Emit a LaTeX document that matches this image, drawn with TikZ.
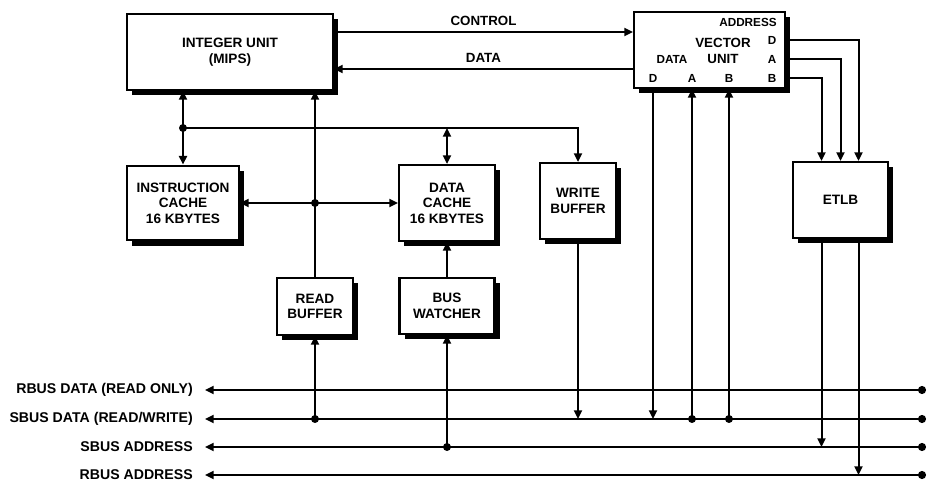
\documentclass[tikz,border=0pt]{standalone}
\usepackage{fontspec}
\setmainfont{Liberation Sans}
\usetikzlibrary{arrows.meta,calc,shadows}

\begin{document}
\begin{tikzpicture}[x=0.75pt,y=-0.75pt,
  wire/.style={line width=1.5pt},
  >={Triangle[length=6.5pt,width=6pt]},
  unitbox/.style={draw, line width=1.6pt, fill=white, align=center, inner sep=0pt,
    font=\fontsize{10.2}{11.6}\selectfont\bfseries,
    general shadow={fill=black, shadow xshift=4pt, shadow yshift=-4pt}},
  tag/.style={font=\fontsize{8.8}{10}\selectfont\bfseries, inner sep=0pt},
  title/.style={font=\fontsize{10}{11}\selectfont\bfseries, inner sep=0pt},
  buslabel/.style={anchor=east, font=\fontsize{10.6}{12}\selectfont\bfseries, inner sep=0pt},
  junction/.style={circle, fill=black, inner sep=0pt, minimum size=6pt},
  busline/.style={wire, {Triangle[length=6.5pt,width=6pt]}-{Circle[length=6pt]}}
]
\useasboundingbox (0,0) rectangle (928,484);

% functional units
\node[unitbox, minimum width=154.5pt, minimum height=57pt] (iu) at (230,52) {INTEGER UNIT\\(MIPS)};
\node[unitbox, minimum width=113.25pt, minimum height=57pt] (vu) at (709.5,50) {};
\node[unitbox, minimum width=71.25pt, minimum height=57pt] (etlb) at (840.5,200) {ETLB};
\node[unitbox, minimum width=84pt, minimum height=56pt] (ic) at (183,203) {INSTRUCTION\\CACHE\\16 KBYTES};
\node[unitbox, minimum width=72pt, minimum height=57pt] (dc) at (447,203) {DATA\\CACHE\\16 KBYTES};
\node[unitbox, minimum width=57pt, minimum height=57pt] (wb) at (578,201) {WRITE\\BUFFER};
\node[unitbox, minimum width=57pt, minimum height=42.75pt] (rb) at (315,306.5) {READ\\BUFFER};
\node[unitbox, minimum width=71.25pt, minimum height=42pt] (bw) at (447,306) {BUS\\WATCHER};

% port labels of the vector unit
\node[tag] (vaddr) at (748,22) {ADDRESS};
\node[title] (vtitle) at (723,43) {VECTOR};
\node[title] (vunit) at (723,59) {UNIT};
\node[tag] (vdata) at (672,59) {DATA};
\node[tag] (vbD) at (653,78) {D};
\node[tag] (vbA) at (692,78) {A};
\node[tag] (vbB) at (729,78) {B};
\node[tag] (vrD) at (772,40) {D};
\node[tag] (vrA) at (772,59) {A};
\node[tag] (vrB) at (772,78) {B};

% external buses
\coordinate (rdL) at (205,390); \coordinate (rdR) at (926,390);
\coordinate (sdL) at (205,419); \coordinate (sdR) at (926,419);
\coordinate (saL) at (205,447); \coordinate (saR) at (926,447);
\coordinate (raL) at (205,475); \coordinate (raR) at (926,475);
\draw[busline] (rdL) -- (rdR);
\draw[busline] (sdL) -- (sdR);
\draw[busline] (saL) -- (saR);
\draw[busline] (raL) -- (raR);
\node[buslabel] (lrd) at ($(rdL)+(-12,0)$) {RBUS DATA (READ ONLY)};
\node[buslabel] (lsd) at ($(sdL)+(-12,0)$) {SBUS DATA (READ/WRITE)};
\node[buslabel] (lsa) at ($(saL)+(-12,0)$) {SBUS ADDRESS};
\node[buslabel] (lra) at ($(raL)+(-12,0)$) {RBUS ADDRESS};

% integer unit <-> vector unit
\coordinate (cL) at ($(iu.east)+(0,-20)$);
\coordinate (dL) at ($(iu.east)+(0,17)$);
\draw[wire,->] (cL) -- (vu.west |- cL) node[midway, above=4pt, title] (lctl) {CONTROL};
\draw[wire,<-] (dL) -- (vu.west |- dL) node[midway, above=4pt, title] (ldat) {DATA};

% internal bus under the integer unit
\coordinate (j1) at (183,128);
\draw[wire,->] (j1) -- (iu.south -| j1);
\draw[wire,->] (j1) -- (ic.north);
\draw[wire,->] (j1) -- (j1 -| wb.north) -- (wb.north);
\draw[wire,<->] (dc.north |- j1) -- (dc.north);
\node[junction] (dj1) at (j1) {};

% read buffer path and cache refill
\draw[wire,->] (rb.north) -- (rb.north |- iu.south);
\coordinate (j2) at (rb.north |- dc.west);
\draw[wire,->] (j2) -- (ic.east |- j2);
\draw[wire,->] (j2) -- (dc.west |- j2);
\node[junction] (dj2) at (j2) {};
\draw[wire,->] (rb.south |- sdL) -- (rb.south);
\node[junction] (drb) at (rb.south |- sdL) {};

% bus watcher
\draw[wire,->] (bw.north) -- (dc.south);
\draw[wire,->] (bw.south |- saL) -- (bw.south);
\node[junction] (dbw) at (bw.south |- saL) {};

% write buffer
\draw[wire,->] (wb.south) -- (wb.south |- sdL);

% vector unit data ports
\draw[wire,->] (vu.south -| vbD) -- (vbD |- sdL);
\draw[wire,->] (vbA |- sdL) -- (vu.south -| vbA);
\draw[wire,->] (vbB |- sdL) -- (vu.south -| vbB);
\node[junction] (dvA) at (vbA |- sdL) {};
\node[junction] (dvB) at (vbB |- sdL) {};

% vector unit address ports to the ETLB
\coordinate (etD) at ($(etlb.north)+(18,0)$);
\coordinate (etB) at ($(etlb.north)+(-19,0)$);
\draw[wire,->] (vu.east |- vrD) -| (etD);
\draw[wire,->] (vu.east |- vrA) -| (etlb.north);
\draw[wire,->] (vu.east |- vrB) -| (etB);

% ETLB outputs
\coordinate (esB) at ($(etlb.south)+(-19,0)$);
\coordinate (esD) at ($(etlb.south)+(18,0)$);
\draw[wire,->] (esB) -- (esB |- saL);
\draw[wire,->] (esD) -- (esD |- raL);
\end{tikzpicture}
\end{document}
